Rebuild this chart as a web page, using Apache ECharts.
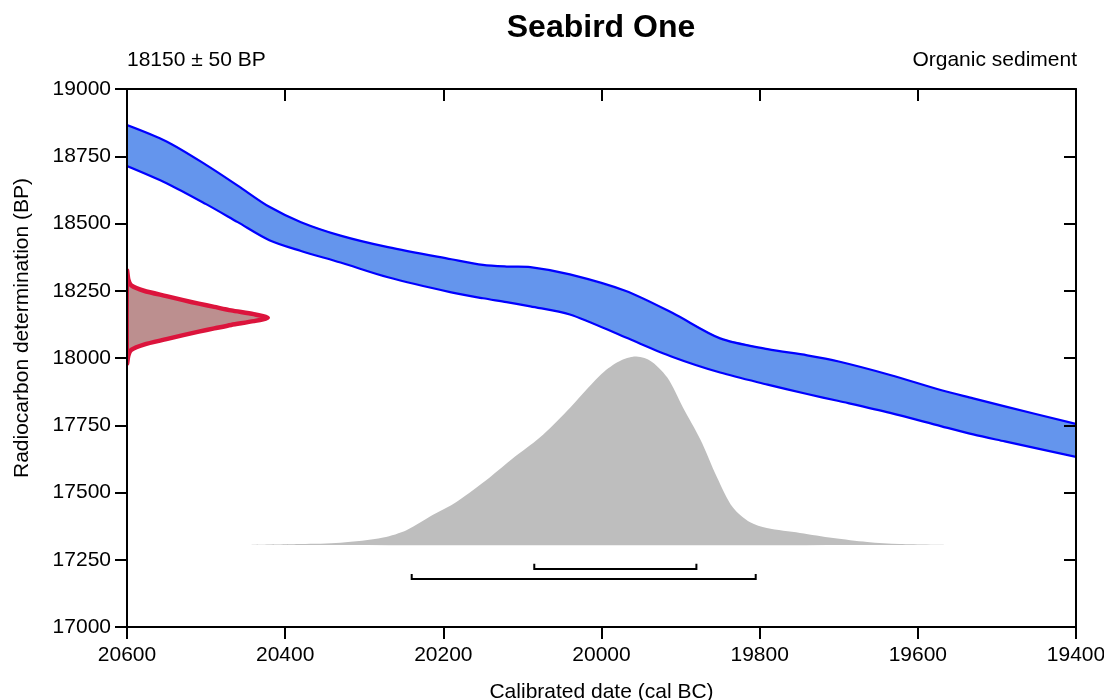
<!DOCTYPE html>
<html>
<head>
<meta charset="utf-8">
<script src="https://cdn.jsdelivr.net/npm/echarts@6/dist/echarts.min.js"></script>
<style>html,body{margin:0;padding:0;background:#fff}#c{width:1104px;height:700px}</style>
</head>
<body>
<div id="c"></div>
<script>
// ---- Data ----
// Calibration curve band (cal BC vs radiocarbon BP)
const calX     = [20600, 20550, 20500, 20460, 20420, 20380, 20330, 20270, 20190, 20150, 20120, 20090, 20040, 19970, 19910, 19850, 19790, 19740, 19700, 19635, 19570, 19530, 19490, 19400];
const calUpper = [18866, 18805, 18718, 18641, 18562, 18505, 18455, 18412, 18367, 18346, 18340, 18338, 18311, 18250, 18167, 18073, 18033, 18010, 17987, 17937, 17880, 17850, 17820, 17755];
const calLower = [18714, 18650, 18572, 18505, 18438, 18398, 18355, 18300, 18244, 18222, 18208, 18192, 18162, 18077, 18004, 17946, 17901, 17866, 17840, 17796, 17746, 17716, 17690, 17632];

// Calibrated probability distribution (cal BC, relative probability)
const postX    = [20441, 20380, 20330, 20276, 20246, 20213, 20183, 20141, 20112, 20078, 20044, 20002, 19980, 19960, 19939, 19917, 19897, 19875, 19854, 19834, 19812, 19791, 19749, 19707, 19664, 19623, 19568];
const postProb = [0, 0.005, 0.012, 0.04, 0.08, 0.16, 0.23, 0.36, 0.46, 0.57, 0.71, 0.90, 0.97, 1.0, 0.98, 0.89, 0.73, 0.56, 0.36, 0.20, 0.12, 0.09, 0.064, 0.037, 0.016, 0.005, 0];

// Radiocarbon measurement distribution (BP, relative probability)
const measBP   = [17980, 18010, 18030, 18050, 18070, 18085, 18098, 18110, 18123, 18137, 18150, 18163, 18177, 18190, 18202, 18215, 18230, 18250, 18270, 18290, 18325];
const measProb = [0, 0.01, 0.03, 0.12, 0.28, 0.40, 0.51, 0.62, 0.74, 0.90, 1.0, 0.90, 0.74, 0.62, 0.51, 0.40, 0.28, 0.12, 0.03, 0.01, 0];

// HPD ranges (cal BC)
const range68 = [20085, 19880];
const range95 = [20240, 19805];

// Axis tick setup
const xMin = 19400, xMax = 20600, xStep = 200;
const yMin = 17000, yMax = 19000, yStep = 250;

// ---- Drawing scale constants (not data) ----
const POST_BASE = 17305, POST_HEIGHT = 700;   // BP units for calibrated curve display
const MEAS_WIDTH = 178;                        // cal years for measurement curve display
const R68_Y = 17216, R95_Y = 17178, BRK_TICK = 19;

const FONT = '"Liberation Sans", Arial, Helvetica, sans-serif';

const chart = echarts.init(document.getElementById('c'), null, {renderer: 'canvas'});

const plain = v => String(v);

const baseX = {
  type: 'value', min: xMin, max: xMax, interval: xStep, inverse: true,
  splitLine: {show: false}, z: 10,
  axisLine: {show: true, onZero: false, lineStyle: {color: '#000', width: 2}},
  axisTick: {show: true, length: 12, lineStyle: {color: '#000', width: 2}}
};
const baseY = {
  type: 'value', min: yMin, max: yMax, interval: yStep,
  splitLine: {show: false}, z: 10,
  axisLine: {show: true, onZero: false, lineStyle: {color: '#000', width: 2}},
  axisTick: {show: true, length: 12, lineStyle: {color: '#000', width: 2}}
};

const option = {
  animation: false,
  backgroundColor: '#fff',
  grid: {left: 127, right: 28, top: 89, bottom: 73, containLabel: false, outerBoundsMode: 'none'},
  graphic: [
    {type: 'text', x: 601, y: 28, style: {text: 'Seabird One', font: 'bold 32px ' + FONT, fill: '#000', align: 'center', verticalAlign: 'middle'}},
    {type: 'text', x: 127, y: 60, style: {text: '18150 \u00b1 50 BP', font: '21px ' + FONT, fill: '#000', align: 'left', verticalAlign: 'middle'}},
    {type: 'text', x: 1077, y: 60, style: {text: 'Organic sediment', font: '21px ' + FONT, fill: '#000', align: 'right', verticalAlign: 'middle'}},
    {type: 'text', x: 22, y: 328, rotation: Math.PI / 2, style: {text: 'Radiocarbon determination (BP)', font: '21px ' + FONT, fill: '#000', align: 'center', verticalAlign: 'middle'}}
  ],
  xAxis: [
    Object.assign({}, baseX, {
      position: 'bottom',
      axisLabel: {show: true, fontSize: 21, color: '#000', fontFamily: FONT, margin: 18, formatter: plain},
      name: 'Calibrated date (cal BC)', nameLocation: 'middle', nameGap: 55,
      nameTextStyle: {fontSize: 21, color: '#000', fontFamily: FONT}
    }),
    Object.assign({}, baseX, {
      position: 'top',
      axisTick: {show: true, inside: true, length: 12, lineStyle: {color: '#000', width: 2}},
      axisLabel: {show: false}
    })
  ],
  yAxis: [
    Object.assign({}, baseY, {
      position: 'left',
      axisLabel: {show: true, fontSize: 21, color: '#000', fontFamily: FONT, margin: 16, formatter: plain}
    }),
    Object.assign({}, baseY, {
      position: 'right',
      axisTick: {show: true, inside: true, length: 12, lineStyle: {color: '#000', width: 2}},
      axisLabel: {show: false}
    })
  ],
  series: [
    {
      type: 'custom', name: 'posterior', xAxisIndex: 0, yAxisIndex: 0, clip: true, z: 2,
      data: [[postX[0], POST_BASE]],
      renderItem: function (params, api) {
        const pts = postX.map((x, i) => api.coord([x, POST_BASE + postProb[i] * POST_HEIGHT]));
        return {type: 'polygon', shape: {points: pts, smooth: 0.3}, style: {fill: '#BEBEBE', stroke: null}};
      }
    },
    {
      type: 'custom', name: 'calibration', xAxisIndex: 0, yAxisIndex: 0, clip: true, z: 3,
      data: [[calX[0], calUpper[0]]],
      renderItem: function (params, api) {
        const up = calX.map((x, i) => api.coord([x, calUpper[i]]));
        const lo = calX.map((x, i) => api.coord([x, calLower[i]]));
        return {type: 'group', children: [
          {type: 'polygon', shape: {points: up.concat(lo.slice().reverse())}, style: {fill: '#6495ED', stroke: null}},
          {type: 'polyline', shape: {points: up, smooth: 0.3}, style: {stroke: '#0000FF', lineWidth: 2.2, fill: null}},
          {type: 'polyline', shape: {points: lo, smooth: 0.3}, style: {stroke: '#0000FF', lineWidth: 2.2, fill: null}}
        ]};
      }
    },
    {
      type: 'custom', name: 'measurement', xAxisIndex: 0, yAxisIndex: 0, clip: true, z: 4,
      data: [[xMax, measBP[0]]],
      renderItem: function (params, api) {
        const pts = measBP.map((b, i) => api.coord([xMax - measProb[i] * MEAS_WIDTH, b]));
        return {type: 'polygon', shape: {points: pts, smooth: 0.25},
          style: {fill: '#BC8F8F', stroke: '#DC143C', lineWidth: 4.5, lineJoin: 'round'}};
      }
    },
    {
      type: 'custom', name: 'ranges', xAxisIndex: 0, yAxisIndex: 0, clip: true, z: 5,
      data: [[range68[0], R68_Y]],
      renderItem: function (params, api) {
        function bracket(r, y) {
          const p = [api.coord([r[0], y + BRK_TICK]), api.coord([r[0], y]), api.coord([r[1], y]), api.coord([r[1], y + BRK_TICK])];
          return {type: 'polyline', shape: {points: p}, style: {stroke: '#000', lineWidth: 2, fill: null}};
        }
        return {type: 'group', children: [bracket(range68, R68_Y), bracket(range95, R95_Y)]};
      }
    }
  ]
};
chart.setOption(option);
</script>
</body>
</html>
